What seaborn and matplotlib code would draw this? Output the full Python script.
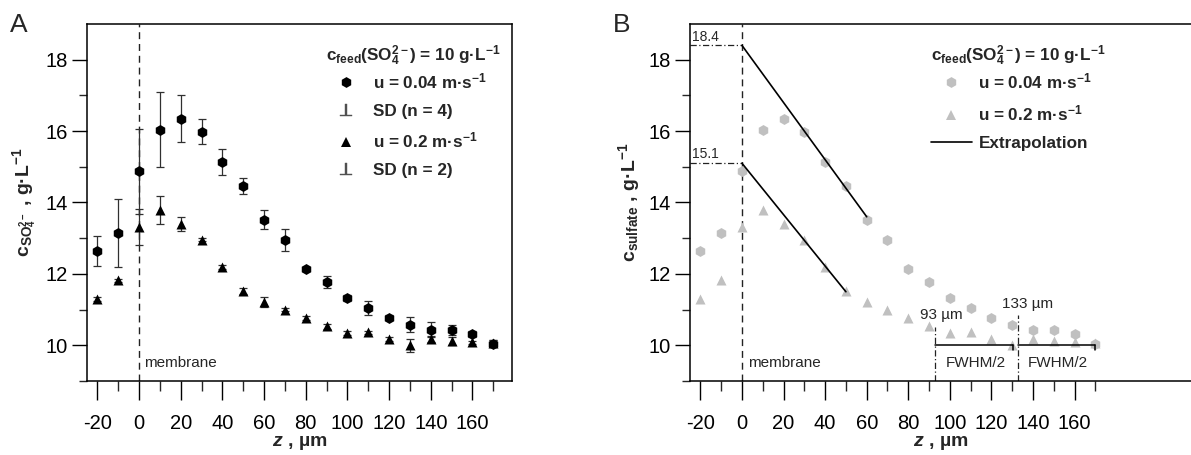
import matplotlib
matplotlib.use("Agg")
import matplotlib.pyplot as plt
import seaborn as sns
import pandas as pd
from matplotlib.lines import Line2D

# Depth positions relative to the membrane surface (µm)
z = [-20, -10, 0, 10, 20, 30, 40, 50, 60, 70, 80, 90, 100, 110, 120, 130, 140, 150, 160, 170]

# Sulfate concentration, flow velocity 0.04 m/s (mean and SD, n = 4)
c_slow = [12.64, 13.15, 14.87, 16.04, 16.35, 15.98, 15.13, 14.46, 13.52, 12.94,
          12.13, 11.77, 11.33, 11.04, 10.77, 10.58, 10.44, 10.42, 10.31, 10.05]
sd_slow = [0.41, 0.96, 1.18, 1.05, 0.66, 0.35, 0.37, 0.22, 0.27, 0.31,
           0.06, 0.17, 0.08, 0.19, 0.07, 0.20, 0.20, 0.14, 0.08, 0.10]

# Sulfate concentration, flow velocity 0.2 m/s (mean and SD, n = 2)
c_fast = [11.30, 11.82, 13.31, 13.80, 13.40, 12.96, 12.19, 11.52, 11.21, 11.00,
          10.76, 10.53, 10.35, 10.36, 10.17, 10.00, 10.17, 10.12, 10.08, 10.06]
sd_fast = [0.05, 0.05, 0.50, 0.39, 0.20, 0.05, 0.05, 0.08, 0.15, 0.05,
           0.05, 0.08, 0.05, 0.05, 0.05, 0.18, 0.08, 0.12, 0.05, 0.08]

# Linear extrapolations of the boundary-layer gradient to the membrane
extrap_slow_z = [0, 60]
extrap_slow_c = [18.4, 13.6]
extrap_fast_z = [0, 50]
extrap_fast_c = [15.1, 11.5]

# Half widths at half maximum
fwhm_start = [93, 133]
fwhm_end = [130.5, 170]
fwhm_label_top = [10.5, 10.85]

x_major = [-20, 0, 20, 40, 60, 80, 100, 120, 140, 160]
x_minor = [-10, 10, 30, 50, 70, 90, 110, 130, 150, 170]
y_major = [10, 12, 14, 16, 18]
y_minor = [9, 11, 13, 15, 17]

df = pd.DataFrame({"z": z, "c_slow": c_slow, "c_fast": c_fast})

sns.set_style("ticks")
plt.rcParams["font.family"] = ["Liberation Sans", "DejaVu Sans"]
plt.rcParams["axes.unicode_minus"] = False
plt.rcParams["mathtext.fontset"] = "custom"
plt.rcParams["mathtext.rm"] = "Liberation Sans"
plt.rcParams["mathtext.it"] = "Liberation Sans:italic"
plt.rcParams["mathtext.bf"] = "Liberation Sans:bold"
plt.rcParams["mathtext.bfit"] = "Liberation Sans:bold:italic"

W, H = 1191, 455
fig = plt.figure(figsize=(W / 100, H / 100), dpi=100)
axA = fig.add_axes([87 / W, 1 - 381 / H, (512 - 87) / W, (381 - 24) / H])
axB = fig.add_axes([690 / W, 1 - 381 / H, (W - 690) / W, (381 - 24) / H])

GRAY = "#c0c0c0"
ERR = "#303030"
TICK_FS = 14.5
LAB_FS = 14
LEG_FS = 12.3
ANN_FS = 11

feed_title = r"c$_{\mathbf{feed}}$(SO$_{\mathbf{4}}^{\mathbf{2-}}$) = 10 g·L$^{\mathbf{-1}}$"
lab_slow = r"u = 0.04 m·s$^{\mathbf{-1}}$"
lab_fast = r"u = 0.2 m·s$^{\mathbf{-1}}$"


def style_axes(ax, xmax):
    ax.set_xlim(-25, xmax)
    ax.set_ylim(9, 19)
    ax.set_xticks(x_major)
    ax.set_xticks(x_minor, minor=True)
    ax.set_yticks(y_major)
    ax.set_yticks(y_minor, minor=True)
    ax.tick_params(axis="x", which="major", direction="out", length=13.5, width=1,
                   pad=10, labelsize=TICK_FS, colors="black")
    ax.tick_params(axis="x", which="minor", direction="out", length=7, width=1)
    ax.tick_params(axis="y", which="major", direction="out", length=10.8, width=1,
                   pad=3, labelsize=TICK_FS, colors="black")
    ax.tick_params(axis="y", which="minor", direction="out", length=5.8, width=1)
    for s in ax.spines.values():
        s.set_linewidth(1.1)
        s.set_color("black")
    ax.set_xlabel(r"$\mathbfit{z}$ , µm", fontsize=LAB_FS, fontweight="bold", labelpad=1)
    ax.axvline(0, color="#222222", lw=1, ls=(0, (5, 3.5)), zorder=1)


def add_legend(ax, handles, labels, x_px):
    leg = ax.legend(handles, labels, title=feed_title, loc="upper left",
                    bbox_to_anchor=(x_px / W, 1 - 35 / H), bbox_transform=fig.transFigure,
                    frameon=False, borderpad=0, handlelength=2.4, handletextpad=0.4,
                    labelspacing=0.72, alignment="left",
                    prop={"size": LEG_FS, "weight": "bold"},
                    title_fontproperties={"size": LEG_FS, "weight": "bold"})
    # tighter gap between the title line and the first entry
    leg._legend_box.sep = 2.5
    return leg


# ---- Panel A: measured profiles with standard deviations ----
axA.errorbar(z, c_slow, yerr=sd_slow, fmt="none", ecolor=ERR, elinewidth=0.9,
             capsize=2.8, capthick=0.9, zorder=2)
axA.errorbar(z, c_fast, yerr=sd_fast, fmt="none", ecolor=ERR, elinewidth=0.9,
             capsize=2.8, capthick=0.9, zorder=2)
sns.scatterplot(data=df, x="z", y="c_slow", marker="h", s=62, color="black",
                linewidth=0, ax=axA, zorder=3, legend=False)
sns.scatterplot(data=df, x="z", y="c_fast", marker="^", s=52, color="black",
                linewidth=0, ax=axA, zorder=3, legend=False)
style_axes(axA, 179)
axA.set_ylabel(r"$\mathbf{c}_{\mathbf{SO}_{\mathbf{4}}^{\mathbf{2-}}}$ , g·L$^{\mathbf{-1}}$",
               fontsize=LAB_FS, fontweight="bold", labelpad=5)
axA.text(2.3, 9.5, "membrane", fontsize=ANN_FS, va="center", ha="left")

handlesA = [
    Line2D([], [], ls="none", marker="h", ms=7.8, color="black", mew=0),
    Line2D([], [], ls="none", marker=r"$\perp$", ms=9, color="#505050", mew=0.3),
    Line2D([], [], ls="none", marker="^", ms=7.2, color="black", mew=0),
    Line2D([], [], ls="none", marker=r"$\perp$", ms=9, color="#505050", mew=0.3),
]
labelsA = [lab_slow, "SD (n = 4)", lab_fast, "SD (n = 2)"]
add_legend(axA, handlesA, labelsA, 317)

# ---- Panel B: extrapolation to the membrane surface ----
sns.scatterplot(data=df, x="z", y="c_slow", marker="h", s=62, color=GRAY,
                linewidth=0, ax=axB, zorder=2, legend=False)
sns.scatterplot(data=df, x="z", y="c_fast", marker="^", s=52, color=GRAY,
                linewidth=0, ax=axB, zorder=2, legend=False)
sns.lineplot(x=extrap_slow_z, y=extrap_slow_c, color="black", lw=1.2, ax=axB, zorder=3)
sns.lineplot(x=extrap_fast_z, y=extrap_fast_c, color="black", lw=1.2, ax=axB, zorder=3)
style_axes(axB, 216)
axB.spines["right"].set_visible(False)
axB.set_ylabel(r"$\mathbf{c}_{\mathbf{sulfate}}$ , g·L$^{\mathbf{-1}}$",
               fontsize=LAB_FS, fontweight="bold", labelpad=5)

for c0 in (extrap_slow_c[0], extrap_fast_c[0]):
    axB.plot([-25, 0], [c0, c0], color="#222222", lw=0.9, ls=(0, (5, 2, 1, 2)), zorder=1)
    axB.text(-24, c0 + 0.05, f"{c0:.1f}", fontsize=10, ha="left", va="bottom")

axB.text(3, 9.5, "membrane", fontsize=ANN_FS, va="center", ha="left")

for x0, x1, ytop in zip(fwhm_start, fwhm_end, fwhm_label_top):
    axB.plot([x0, x0], [9, ytop], color="#222222", lw=0.9, ls=(0, (5, 2, 1, 2)), zorder=1)
    axB.plot([x0, x1], [10, 10], color="black", lw=1.1, zorder=3)
    axB.plot([x1, x1], [10, 9.86], color="black", lw=1.1, zorder=3)
    axB.text((x0 + x1) / 2 + 0.5, 9.5, "FWHM/2", fontsize=ANN_FS, ha="center", va="center")

axB.text(96, 10.84, f"{fwhm_start[0]} µm", fontsize=ANN_FS, ha="center", va="center")
axB.text(137.5, 11.17, f"{fwhm_start[1]} µm", fontsize=ANN_FS, ha="center", va="center")

handlesB = [
    Line2D([], [], ls="none", marker="h", ms=7.8, color=GRAY, mew=0),
    Line2D([], [], ls="none", marker="^", ms=7.2, color=GRAY, mew=0),
    Line2D([], [], color="black", lw=1.2),
]
labelsB = [lab_slow, lab_fast, "Extrapolation"]
add_legend(axB, handlesB, labelsB, 922)

fig.text(10 / W, 1 - 32 / H, "A", fontsize=19, va="baseline", ha="left")
fig.text(613 / W, 1 - 32 / H, "B", fontsize=19, va="baseline", ha="left")

fig.savefig("out.png", dpi=100)
